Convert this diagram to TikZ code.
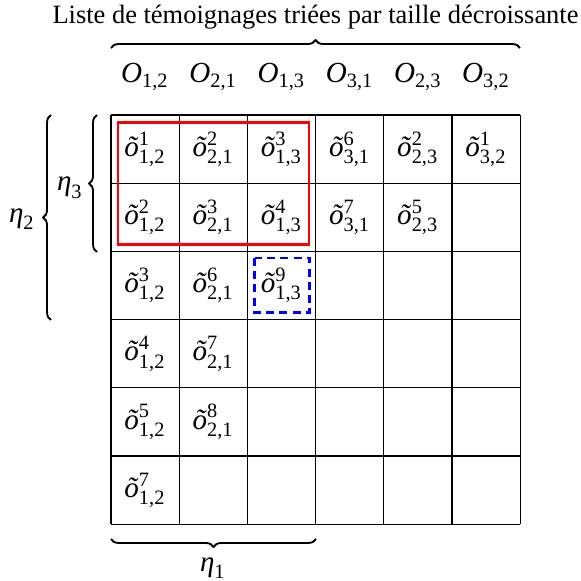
\documentclass[tikz,border=0pt]{standalone}
\usepackage{amsmath}
\usepackage{fontspec}
\setmainfont{Liberation Serif}
\usetikzlibrary{decorations.pathreplacing}
\newcommand{\ot}[2]{$\textit{õ}^{\text{#1}}_{\text{#2}}$}
\newcommand{\Ob}[1]{$\textit{O}_{\text{#1}}$}
\newcommand{\et}[1]{$\textit{η}_{\text{#1}}$}
\begin{document}
\begin{tikzpicture}[x=0.378pt,y=-0.378pt,
  every node/.style={font=\fontsize{10}{12}\selectfont},
  mth/.style={font=\fontsize{11}{13}\selectfont},
  gridline/.style={line width=0.5pt},
  txt/.style={inner sep=0pt},
  brc/.style={decorate, decoration={brace, amplitude=3pt}, line width=0.7pt},
  redbox/.style={draw=red, line width=1pt},
  bluebox/.style={draw=blue, line width=0.9pt, dash pattern=on 3pt off 2pt}]
\useasboundingbox (0,0) rectangle (581,581);
% grid lines
\foreach \i in {0,...,6}{
  \draw[gridline] ({111+68.2*\i},115) -- ({111+68.2*\i},524.2);
  \draw[gridline] (111,{115+68.2*\i}) -- (520.2,{115+68.2*\i});
}
% cell contents
\foreach \r/\c/\t in {
  1/1/{\ot{1}{1,2}}, 1/2/{\ot{2}{2,1}}, 1/3/{\ot{3}{1,3}}, 1/4/{\ot{6}{3,1}}, 1/5/{\ot{2}{2,3}}, 1/6/{\ot{1}{3,2}},
  2/1/{\ot{2}{1,2}}, 2/2/{\ot{3}{2,1}}, 2/3/{\ot{4}{1,3}}, 2/4/{\ot{7}{3,1}}, 2/5/{\ot{5}{2,3}},
  3/1/{\ot{3}{1,2}}, 3/2/{\ot{6}{2,1}}, 3/3/{\ot{9}{1,3}},
  4/1/{\ot{4}{1,2}}, 4/2/{\ot{7}{2,1}},
  5/1/{\ot{5}{1,2}}, 5/2/{\ot{8}{2,1}},
  6/1/{\ot{7}{1,2}}}{
  \node[txt, mth] (t\r\c) at ({111+68.2*(\c-0.5)},{115+68.2*(\r-0.5)}) {\t};
}
% title
\node[txt, anchor=base] (title) at (315.5,24) {Liste de témoignages triées par taille décroissante};
% top brace
\coordinate (tb1) at (111,48);
\coordinate (tb2) at (520,48);
\draw[brc] (tb1) -- (tb2);
% headers
\foreach \c/\l in {1/{1,2},2/{2,1},3/{1,3},4/{3,1},5/{2,3},6/{3,2}}{
  \node[txt, mth, anchor=base] (h\c) at ({111+68.2*(\c-0.5)},83) {\Ob{\l}};
}
% highlight boxes
\coordinate (r1) at (118,122.5);
\coordinate (r2) at (309,244.5);
\draw[redbox] (r1) rectangle (r2);
\coordinate (b1) at (254.5,258);
\coordinate (b2) at (309.5,312.5);
\draw[bluebox] (b1) rectangle (b2);
% left braces
\coordinate (l3a) at (97,252);
\coordinate (l3b) at (97,115);
\draw[brc] (l3a) -- (l3b);
\node[txt, mth] (eta3) at (70,188) {\et{3}};
\coordinate (l2a) at (51,320);
\coordinate (l2b) at (51,115);
\draw[brc] (l2a) -- (l2b);
\node[txt, mth] (eta2) at (22,219) {\et{2}};
% bottom brace
\coordinate (bb1) at (316,539);
\coordinate (bb2) at (111,539);
\draw[brc] (bb1) -- (bb2);
\node[txt, mth] (eta1) at (213,568) {\et{1}};
\end{tikzpicture}
\end{document}
